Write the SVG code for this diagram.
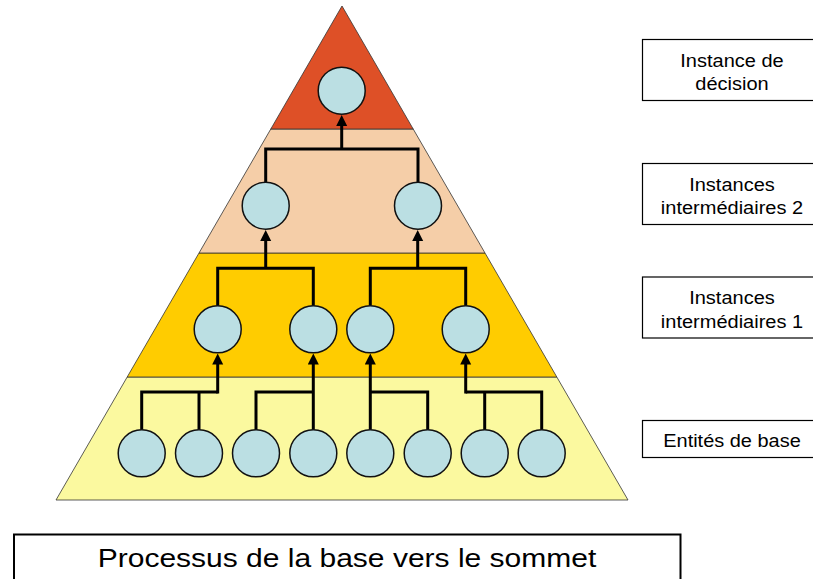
<svg xmlns="http://www.w3.org/2000/svg" width="813" height="579" viewBox="0 0 813 579">
<style>
.band{stroke:#333;stroke-width:0.8}
.node{fill:#BBDFE3;stroke:#111;stroke-width:1.5}
.conn{fill:none;stroke:#000;stroke-width:3}
.lbl{fill:#fff;stroke:#000;stroke-width:1.2}
.t{font-family:"Liberation Sans",Arial,sans-serif;font-size:17.5px;fill:#000;text-anchor:middle}
.tb{font-family:"Liberation Sans",Arial,sans-serif;font-size:25.5px;fill:#000;text-anchor:middle}
</style>
<defs>
<marker id="arr" markerUnits="userSpaceOnUse" markerWidth="12" markerHeight="12" viewBox="0 0 12 12" refX="5" refY="5.5" orient="auto">
<path d="M0,0 L11,5.5 L0,11 z" fill="#000"/>
</marker>
</defs>
<rect width="813" height="579" fill="#fff"/>
<g id="pyramid">
<polygon class="band" fill="#FBF99F" points="127.2,377 556.8,377 628,500 56,500"/>
<polygon class="band" fill="#FFCC00" points="199,253 485,253 556.8,377 127.2,377"/>
<polygon class="band" fill="#F5CEA8" points="270.8,129 413.2,129 485,253 199,253"/>
<polygon class="band" fill="#DE5027" points="342,6 413.2,129 270.8,129"/>
</g>
<g id="connectors">
<path class="conn" d="M265.7,182 V149 H418 V182"/>
<path class="conn" d="M341.7,149 V121" marker-end="url(#arr)"/>
<path class="conn" d="M217.7,305.8 V268.3 H313.3 V305.8"/>
<path class="conn" d="M265.7,268.3 V236" marker-end="url(#arr)"/>
<path class="conn" d="M370.3,305.8 V268.3 H465.7 V305.8"/>
<path class="conn" d="M417.7,268.3 V236" marker-end="url(#arr)"/>
<path class="conn" d="M141.7,429.8 V392 H217.7"/>
<path class="conn" d="M199,429.8 V392"/>
<path class="conn" d="M217.7,393.5 V359.5" marker-end="url(#arr)"/>
<path class="conn" d="M256,429.8 V392 H313.3"/>
<path class="conn" d="M313.3,429.8 V359.5" marker-end="url(#arr)"/>
<path class="conn" d="M427.7,429.8 V392 H370.3"/>
<path class="conn" d="M370.3,429.8 V359.5" marker-end="url(#arr)"/>
<path class="conn" d="M541.7,429.8 V392 H465.7"/>
<path class="conn" d="M484.7,429.8 V392"/>
<path class="conn" d="M465.7,393.5 V359.5" marker-end="url(#arr)"/>
</g>
<g id="n-top"><circle class="node" cx="341.7" cy="90.7" r="23.5"/></g>
<g id="n-l2a"><circle class="node" cx="265.7" cy="205.7" r="23.5"/></g>
<g id="n-l2b"><circle class="node" cx="418" cy="205.7" r="23.5"/></g>
<g id="n-l1a"><circle class="node" cx="217.7" cy="329.3" r="23.5"/></g>
<g id="n-l1b"><circle class="node" cx="313.3" cy="329.3" r="23.5"/></g>
<g id="n-l1c"><circle class="node" cx="370.3" cy="329.3" r="23.5"/></g>
<g id="n-l1d"><circle class="node" cx="465.7" cy="329.3" r="23.5"/></g>
<g id="n-b1"><circle class="node" cx="141.7" cy="453.3" r="23.5"/></g>
<g id="n-b2"><circle class="node" cx="199" cy="453.3" r="23.5"/></g>
<g id="n-b3"><circle class="node" cx="256" cy="453.3" r="23.5"/></g>
<g id="n-b4"><circle class="node" cx="313.3" cy="453.3" r="23.5"/></g>
<g id="n-b5"><circle class="node" cx="370.3" cy="453.3" r="23.5"/></g>
<g id="n-b6"><circle class="node" cx="427.7" cy="453.3" r="23.5"/></g>
<g id="n-b7"><circle class="node" cx="484.7" cy="453.3" r="23.5"/></g>
<g id="n-b8"><circle class="node" cx="541.7" cy="453.3" r="23.5"/></g>
<g id="lbl-decision">
<rect class="lbl" x="642.5" y="39.5" width="180" height="61"/>
<text class="t" x="732" y="66.7" textLength="103.4" lengthAdjust="spacingAndGlyphs">Instance de</text>
<text class="t" x="732" y="90" textLength="73.4" lengthAdjust="spacingAndGlyphs">décision</text>
</g>
<g id="lbl-inter2">
<rect class="lbl" x="642.5" y="163.5" width="180" height="61"/>
<text class="t" x="732" y="190.5" textLength="85.6" lengthAdjust="spacingAndGlyphs">Instances</text>
<text class="t" x="732" y="213.8" textLength="142.3" lengthAdjust="spacingAndGlyphs">intermédiaires 2</text>
</g>
<g id="lbl-inter1">
<rect class="lbl" x="642.5" y="277" width="180" height="61"/>
<text class="t" x="732" y="304.2" textLength="85.6" lengthAdjust="spacingAndGlyphs">Instances</text>
<text class="t" x="732" y="327.5" textLength="142.3" lengthAdjust="spacingAndGlyphs">intermédiaires 1</text>
</g>
<g id="lbl-base">
<rect class="lbl" x="642.5" y="420.5" width="180" height="37"/>
<text class="t" x="732" y="446.5" textLength="137.5" lengthAdjust="spacingAndGlyphs">Entités de base</text>
</g>
<g id="title">
<rect x="14" y="534.5" width="666.5" height="60" fill="#fff" stroke="#000" stroke-width="2"/>
<text class="tb" x="347" y="566.7" textLength="498.5" lengthAdjust="spacingAndGlyphs">Processus de la base vers le sommet</text>
</g>
</svg>
